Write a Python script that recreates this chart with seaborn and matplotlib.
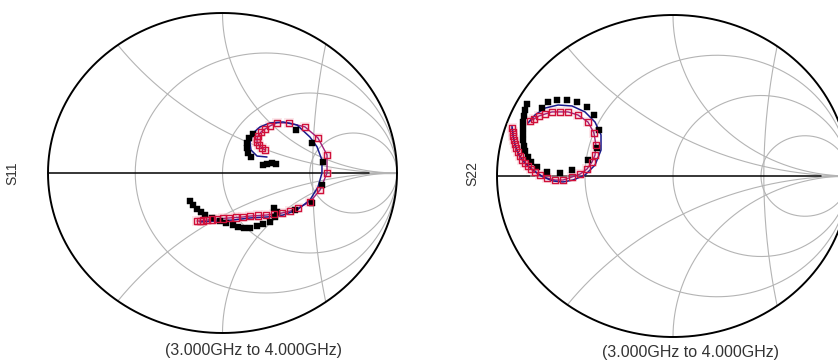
import numpy as np
import pandas as pd
import matplotlib
matplotlib.use("Agg")
import matplotlib.pyplot as plt
import seaborn as sns

sns.set_style("white")
plt.rcParams["font.family"] = ["Liberation Sans", "DejaVu Sans"]

# ---- S11 (reflection coefficient, real / imaginary) ----
s11_model_re = [0.255, 0.198, 0.163, 0.158, 0.175, 0.215, 0.272, 0.347, 0.427, 0.501, 0.542,
                0.570, 0.570, 0.547, 0.501, 0.427, 0.347, 0.255, 0.158, 0.060, -0.032, -0.129]
s11_model_im = [0.100, 0.106, 0.144, 0.188, 0.250, 0.288, 0.313, 0.319, 0.300, 0.225, 0.163,
                0.081, 0.000, -0.088, -0.169, -0.231, -0.263, -0.275, -0.281, -0.294, -0.300, -0.306]

s11_sim_re = [0.244, 0.226, 0.209, 0.198, 0.198, 0.203, 0.221, 0.244, 0.272, 0.312, 0.381, 0.473,
              0.547, 0.599, 0.599, 0.559, 0.501, 0.433, 0.387, 0.341, 0.295, 0.249, 0.203, 0.158,
              0.117, 0.077, 0.037, 0.003, -0.032, -0.060, -0.089, -0.112, -0.129, -0.146]
s11_sim_im = [0.144, 0.156, 0.175, 0.194, 0.213, 0.231, 0.256, 0.275, 0.294, 0.313, 0.313, 0.288,
              0.219, 0.113, 0.000, -0.106, -0.181, -0.219, -0.238, -0.250, -0.256, -0.263, -0.266, -0.269,
              -0.275, -0.278, -0.281, -0.284, -0.288, -0.291, -0.294, -0.297, -0.300, -0.300]

s11_meas_re = [-0.186, -0.169, -0.146, -0.123, -0.100, -0.060, -0.015, 0.020, 0.060, 0.089, 0.123,
               0.158, 0.198, 0.232, 0.272, 0.301, 0.312, 0.295, 0.415, 0.513, 0.570, 0.576, 0.513,
               0.421, 0.175, 0.152, 0.140, 0.140, 0.146, 0.163, 0.232, 0.255, 0.284, 0.307]
s11_meas_im = [-0.175, -0.200, -0.225, -0.244, -0.263, -0.281, -0.300, -0.313, -0.325, -0.338, -0.344,
               -0.344, -0.331, -0.319, -0.306, -0.275, -0.244, -0.219, -0.231, -0.188, -0.075, 0.069, 0.188,
               0.269, 0.244, 0.219, 0.188, 0.156, 0.125, 0.100, 0.050, 0.056, 0.063, 0.056]

# ---- S22 ----
s22_model_re = [-0.915, -0.909, -0.898, -0.875, -0.841, -0.795, -0.739, -0.682, -0.625, -0.568, -0.500,
                -0.443, -0.409, -0.409, -0.443, -0.500, -0.574, -0.653, -0.727, -0.784, -0.824]
s22_model_im = [0.311, 0.255, 0.193, 0.130, 0.081, 0.037, -0.006, -0.031, -0.037, -0.025, 0.006,
                0.068, 0.161, 0.255, 0.335, 0.398, 0.435, 0.441, 0.422, 0.379, 0.329]

s22_sim_re = [-0.915, -0.909, -0.909, -0.903, -0.898, -0.892, -0.881, -0.869, -0.858, -0.841, -0.824,
              -0.807, -0.784, -0.756, -0.716, -0.670, -0.625, -0.574, -0.528, -0.489, -0.460, -0.443,
              -0.438, -0.449, -0.483, -0.540, -0.597, -0.642, -0.688, -0.727, -0.761, -0.790, -0.813]
s22_sim_im = [0.298, 0.273, 0.248, 0.224, 0.199, 0.174, 0.149, 0.124, 0.099, 0.081, 0.062,
              0.043, 0.025, 0.006, -0.012, -0.025, -0.025, -0.006, 0.012, 0.043, 0.087, 0.130,
              0.193, 0.267, 0.335, 0.379, 0.398, 0.398, 0.398, 0.385, 0.373, 0.354, 0.342]

s22_meas_re = [-0.830, -0.841, -0.847, -0.852, -0.852, -0.852, -0.852, -0.847, -0.841, -0.824, -0.807,
               -0.773, -0.716, -0.642, -0.574, -0.483, -0.432, -0.420, -0.449, -0.489, -0.545, -0.602,
               -0.659, -0.710, -0.744]
s22_meas_im = [0.447, 0.410, 0.373, 0.335, 0.298, 0.261, 0.224, 0.186, 0.155, 0.118, 0.087,
               0.056, 0.025, 0.019, 0.037, 0.099, 0.174, 0.286, 0.379, 0.429, 0.460, 0.472,
               0.472, 0.460, 0.422]

r_circles = [1 / 3, 1.0, 3.0]
x_arcs = [0.5, 1.0, -0.5, -1.0]
sweep_label = "(3.000GHz to 4.000GHz)"

GRID = "#b4b4b4"
NAVY = "#1a1a8c"
RED = "#d0103a"


def smith_grid(ax):
    t = np.linspace(0, 2 * np.pi, 721)
    for r in r_circles:
        c, rad = r / (1 + r), 1 / (1 + r)
        ax.plot(c + rad * np.cos(t), rad * np.sin(t), color=GRID, lw=0.8, zorder=1)
    rr = np.concatenate([np.linspace(0, 1, 200), np.logspace(0, 3, 300)])
    for x in x_arcs:
        g = (rr + 1j * x - 1) / (rr + 1j * x + 1)
        ax.plot(g.real, g.imag, color=GRID, lw=0.8, zorder=1)
    # wide arc crossing the real axis at 0.516, clipped to the unit circle
    cx, R = 4.84, 4.324
    ph = np.linspace(np.pi - 0.25, np.pi + 0.25, 400)
    gx, gy = cx + R * np.cos(ph), R * np.sin(ph)
    inside = gx ** 2 + gy ** 2 <= 1.0
    ax.plot(gx[inside], gy[inside], color=GRID, lw=0.8, zorder=1)
    ax.plot([0.84, 1.0], [0, 0], color=GRID, lw=1.0, zorder=1)
    ax.plot([-1.0, 0.84], [0, 0], color="black", lw=1.1, zorder=2)
    ax.plot(np.cos(t), np.sin(t), color="black", lw=1.4, zorder=2, clip_on=False)


def draw_param(ax, mre, mim, sre, sim, are, aim):
    sim_df = pd.DataFrame({"re": sre, "im": sim})
    meas_df = pd.DataFrame({"re": are, "im": aim})
    model_df = pd.DataFrame({"re": mre, "im": mim})
    # soft halo behind the simulated markers
    sns.scatterplot(data=sim_df, x="re", y="im", ax=ax, marker="s", s=60,
                    color="#f7c6cf", edgecolor="none", alpha=0.4, zorder=3, legend=False)
    sns.lineplot(data=sim_df, x="re", y="im", ax=ax, sort=False, estimator=None,
                 color="#a0207a", lw=1.0, zorder=4, legend=False)
    sns.lineplot(data=model_df, x="re", y="im", ax=ax, sort=False, estimator=None,
                 color=NAVY, lw=1.1, zorder=5, legend=False)
    sns.scatterplot(data=meas_df, x="re", y="im", ax=ax, marker="s", s=16,
                    color="black", edgecolor="black", linewidth=0.3, zorder=6, legend=False)
    sns.scatterplot(data=sim_df, x="re", y="im", ax=ax, marker="s", s=20,
                    facecolor="none", edgecolor=RED, linewidth=1.0, zorder=7, legend=False)


fig = plt.figure(figsize=(8.38, 3.6), dpi=100)
ax1 = fig.add_axes([48 / 838, 27 / 360, 349 / 838, 320 / 360])
ax2 = fig.add_axes([497 / 838, 23 / 360, 352 / 838, 322 / 360])

for ax in (ax1, ax2):
    smith_grid(ax)
    ax.set_xlim(-1, 1)
    ax.set_ylim(-1, 1)
    ax.set_axis_off()

draw_param(ax1, s11_model_re, s11_model_im, s11_sim_re, s11_sim_im, s11_meas_re, s11_meas_im)
draw_param(ax2, s22_model_re, s22_model_im, s22_sim_re, s22_sim_im, s22_meas_re, s22_meas_im)

txt = dict(color="#333333", ha="center", va="center")
fig.text(12 / 838, 1 - 173 / 360, "S11", rotation=90, fontsize=10, **txt)
fig.text(472 / 838, 1 - 173 / 360, "S22", rotation=90, fontsize=10, **txt)
fig.text(253 / 838, 1 - 350 / 360, sweep_label, fontsize=11.5, **txt)
fig.text(690 / 838, 1 - 352 / 360, sweep_label, fontsize=11.5, **txt)

fig.savefig("out.png", dpi=100, facecolor="white")
